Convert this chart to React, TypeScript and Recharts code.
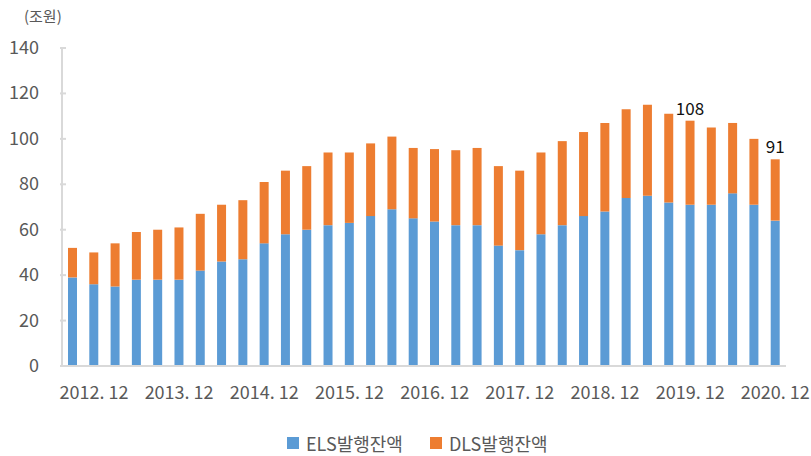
import React from 'react';
import { BarChart, Bar, XAxis, YAxis, LabelList } from 'recharts';

// quarter-end dates, 2012.09 ~ 2020.12
const quarters = [
  '2012.09', '2012.12', '2013.03', '2013.06', '2013.09', '2013.12',
  '2014.03', '2014.06', '2014.09', '2014.12', '2015.03', '2015.06',
  '2015.09', '2015.12', '2016.03', '2016.06', '2016.09', '2016.12',
  '2017.03', '2017.06', '2017.09', '2017.12', '2018.03', '2018.06',
  '2018.09', '2018.12', '2019.03', '2019.06', '2019.09', '2019.12',
  '2020.03', '2020.06', '2020.09', '2020.12',
];

// ELS outstanding (trillion won)
const elsValues = [
  39, 36, 35, 38, 38, 38, 42, 46, 47, 54, 58, 60,
  62, 63, 66, 69, 65, 63.6, 62, 62, 53, 51, 58, 62,
  66, 68, 74, 75, 72, 71, 71, 76, 71, 64,
];

// DLS outstanding (trillion won)
const dlsValues = [
  13, 14, 19, 21, 22, 23, 25, 25, 26, 27, 28, 28,
  32, 31, 32, 32, 31, 31.9, 33, 34, 35, 35, 36, 37,
  37, 39, 39, 40, 39, 37, 34, 31, 29, 27,
];

// totals written above a few bars
const noteQuarters = ['2019.12', '2020.12'];
const noteTexts = ['108', '91'];

// x labels shown (every December)
const xTicks = ['2012.12', '2013.12', '2014.12', '2015.12', '2016.12', '2017.12', '2018.12', '2019.12', '2020.12'];
const yTicks = [0, 20, 40, 60, 80, 100, 120, 140];

const data = quarters.map((q, i) => {
  const n = noteQuarters.indexOf(q);
  return { q, els: elsValues[i], dls: dlsValues[i], note: n >= 0 ? noteTexts[n] : '' };
});

const FONT = '"Noto Sans CJK KR", "Noto Sans", sans-serif';
const TEXT = '#595959';
const AXIS = '#d9d9d9';

const YTick = (props: any) => {
  const { x, y, payload } = props;
  return (
    <g>
      <line x1={x} x2={x + 6} y1={y} y2={y} stroke={AXIS} strokeWidth={2} />
      <text x={x - 21} y={y} dy={6} textAnchor="end" fontSize={18} fill={TEXT} fontFamily={FONT}>
        {payload.value}
      </text>
    </g>
  );
};

const XTick = (props: any) => {
  const { x, y, payload } = props;
  const label = String(payload.value).replace('.', '. ');
  return (
    <text x={x} y={y} dy={25} textAnchor="middle" fontSize={18} fill={TEXT} fontFamily={FONT}>
      {label}
    </text>
  );
};

const LegendBox = () => (
  <div style={{ position: 'absolute', left: 287, top: 430, display: 'flex', alignItems: 'center', fontFamily: FONT, fontSize: 18, color: TEXT }}>
    <span style={{ width: 12, height: 12, background: '#5B9BD5', marginRight: 7 }} />
    <span style={{ marginRight: 27 }}>ELS발행잔액</span>
    <span style={{ width: 12, height: 12, background: '#ED7D31', marginRight: 7 }} />
    <span>DLS발행잔액</span>
  </div>
);

export default function App() {
  return (
    <div style={{ position: 'fixed', left: 0, top: 0, width: 811, height: 456, background: '#fff' }}>
      <div style={{ position: 'absolute', left: 24, top: 5, fontFamily: FONT, fontSize: 15, color: TEXT }}>(조원)</div>
      <BarChart width={811} height={456} data={data} margin={{ top: 48, right: 25, left: 0, bottom: 0 }} barSize={9}>
        <XAxis
          dataKey="q"
          ticks={xTicks}
          interval={0}
          tick={<XTick />}
          tickLine={false}
          axisLine={{ stroke: AXIS, strokeWidth: 2 }}
          height={90}
        />
        <YAxis
          domain={[0, 140]}
          ticks={yTicks}
          tick={<YTick />}
          tickLine={false}
          tickSize={0}
          axisLine={{ stroke: AXIS, strokeWidth: 2 }}
          width={62}
        />
        <Bar dataKey="els" stackId="a" fill="#5B9BD5" isAnimationActive={false} />
        <Bar dataKey="dls" stackId="a" fill="#ED7D31" isAnimationActive={false}>
          <LabelList dataKey="note" position="top" offset={6} fontSize={17} fill="#111" fontFamily={FONT} />
        </Bar>
      </BarChart>
      <LegendBox />
    </div>
  );
}
